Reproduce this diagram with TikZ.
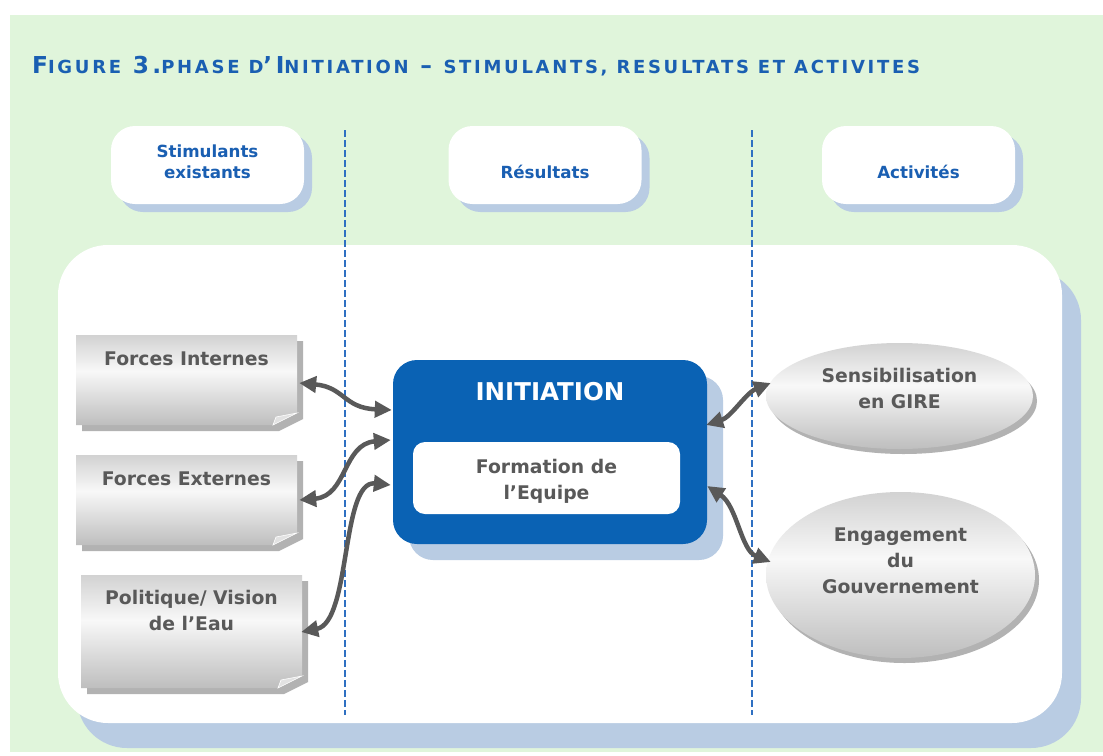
\documentclass[tikz,border=0pt]{standalone}
\usepackage{fontspec}
\setmainfont{DejaVu Sans}
\usetikzlibrary{shapes.geometric, arrows.meta, shadows, calc, positioning}

\definecolor{bggreen}{HTML}{E0F5DB}
\definecolor{shblue}{HTML}{B9CCE3}
\definecolor{hdblue}{HTML}{1A5FB2}
\definecolor{lineblue}{HTML}{2F70C2}
\definecolor{boxblue}{HTML}{0A62B4}
\definecolor{txtgray}{HTML}{595959}
\definecolor{notegray}{HTML}{B2B2B2}
\definecolor{gtop}{HTML}{D2D2D2}
\definecolor{gmid}{HTML}{F8F8F8}
\definecolor{gbot}{HTML}{BEBEBE}
\definecolor{gfold}{HTML}{E2E2E2}
\pgfdeclareverticalshading{silver}{100bp}{color(0bp)=(gbot); color(25bp)=(gbot); color(55bp)=(gmid); color(75bp)=(gtop); color(100bp)=(gtop)}

\newcommand{\smallcap}[1]{{\fontsize{18}{21}\selectfont #1}}

\tikzstyle{heading} = [rectangle, rounded corners=24pt, minimum width=193pt, minimum height=78pt, fill=white, text=hdblue, font=\bfseries\fontsize{16.7}{21}\selectfont, align=center, drop shadow={shadow xshift=8pt, shadow yshift=-8pt, fill=shblue, opacity=1}]
\tikzstyle{oneline} = [text height=26pt, text depth=0pt]
\tikzstyle{panel} = [rectangle, rounded corners=50pt, minimum width=1004pt, minimum height=478pt, fill=white, drop shadow={shadow xshift=19pt, shadow yshift=-25pt, fill=shblue, opacity=1}]
\tikzstyle{divider} = [lineblue, line width=1.1pt, dash pattern=on 7pt off 3pt]
\tikzstyle{note} = [rectangle, minimum width=221pt, minimum height=90pt, inner sep=0pt]
\tikzstyle{fold} = [fill=gfold, draw=white, line width=0.6pt]
\tikzstyle{graytext} = [text=txtgray, font=\bfseries\fontsize{18.8}{26}\selectfont, align=center]
\tikzstyle{phase} = [rectangle, rounded corners=24pt, minimum width=314pt, minimum height=184pt, fill=boxblue, drop shadow={shadow xshift=16pt, shadow yshift=-16pt, fill=shblue, opacity=1}]
\tikzstyle{phasetext} = [text=white, font=\bfseries\fontsize{24.5}{28}\selectfont]
\tikzstyle{task} = [rectangle, rounded corners=12pt, minimum width=267pt, minimum height=72pt, fill=white]
\tikzstyle{action} = [ellipse, inner sep=0pt, minimum width=267pt, shade, shading=silver, drop shadow={shadow xshift=4pt, shadow yshift=-5pt, fill=notegray, opacity=1}]
\tikzstyle{arrow} = [line width=4.5pt, draw=txtgray, {Triangle[length=17pt,width=16pt]}-{Triangle[length=17pt,width=16pt]}]

\begin{document}
\begin{tikzpicture}[x=1pt, y=-1pt]

\useasboundingbox (0,0) rectangle (1103,755);
\fill[bggreen] (10,15) rectangle (1103,752);

\node (title) [anchor=base west, inner sep=0pt, text=hdblue, font=\bfseries\fontsize{23.3}{26}\selectfont\addfontfeatures{LetterSpace=15}] at (32,73) {F\smallcap{IGURE} 3.\smallcap{PHASE D}’I\smallcap{NITIATION} – \smallcap{STIMULANTS, RESULTATS ET ACTIVITES}};

\node (stim) [heading, text depth=7pt] at (207.5,165) {Stimulants\\existants};
\node (res) [heading, oneline] at (545,165) {Résultats};
\node (act) [heading, oneline] at (918.5,165) {Activités};

\node (panel) [panel] at (560,484) {};

\draw [divider] (345,130) -- (345,715);
\draw [divider] (752,130) -- (752,715);

\fill[notegray] (82,341) -- ++(221,0) -- ++(0,78) -- ++(-24,12) -- ++(-197,0) -- cycle;
\shade[shading=silver] (76,335) -- ++(221,0) -- ++(0,78) -- ++(-24,12) -- ++(-197,0) -- cycle;
\filldraw[fold] (297,413) -- ++(-24,12) -- ++(3,-8) -- cycle;
\fill[notegray] (82,461) -- ++(221,0) -- ++(0,78) -- ++(-24,12) -- ++(-197,0) -- cycle;
\shade[shading=silver] (76,455) -- ++(221,0) -- ++(0,78) -- ++(-24,12) -- ++(-197,0) -- cycle;
\filldraw[fold] (297,533) -- ++(-24,12) -- ++(3,-8) -- cycle;
\fill[notegray] (87,581) -- ++(221,0) -- ++(0,101) -- ++(-24,12) -- ++(-197,0) -- cycle;
\shade[shading=silver] (81,575) -- ++(221,0) -- ++(0,101) -- ++(-24,12) -- ++(-197,0) -- cycle;
\filldraw[fold] (302,676) -- ++(-24,12) -- ++(3,-8) -- cycle;

\node (fi) [note, label={[graytext, yshift=21pt]center:Forces Internes}] at (186.5,380) {};
\node (fe) [note, label={[graytext, yshift=21pt]center:Forces Externes}] at (186.5,500) {};
\node (pv) [note, minimum height=113pt, label={[graytext, yshift=21pt]center:Politique/ Vision\\de l’Eau}] at (191.5,631.5) {};

\node (init) [phase, label={[phasetext, yshift=60pt]center:INITIATION}] at (550,452) {};
\node (form) [task, below=82pt of init.north, xshift=-3.5pt, label={[graytext, yshift=-3pt]center:Formation de\\l’Equipe}] {};

\node (sg) [action, minimum height=106pt, label={[graytext, yshift=7.5pt]center:Sensibilisation\\en GIRE}] at (899.5,396) {};
\node (eg) [action, minimum width=269pt, minimum height=166pt, label={[graytext, yshift=14pt]center:Engagement\\du\\Gouvernement}] at (900.5,575) {};

\draw [arrow] ($(fi.east)+(2,3)$) .. controls +(45,4) and +(-48,-2) .. ($(init.west)+(-1,-42)$);
\draw [arrow] ($(fe.east)+(2,0)$) .. controls +(48,-4) and +(-48,4) .. ($(init.west)+(-2,-12)$);
\draw [arrow] ($(pv.east)+(-1,0.5)$) .. controls +(50,-10) and +(-50,-5) .. ($(init.west)+(-2,33)$);
\draw [arrow] ($(init.east)+(-1,-27)$) .. controls +(25,-8) and +(-25,10) .. ($(sg.west)+(5,-13)$);
\draw [arrow] ($(init.east)+(0,34)$) .. controls +(30,20) and +(-30,-12) .. ($(eg.west)+(5,-13)$);

\end{tikzpicture}
\end{document}
